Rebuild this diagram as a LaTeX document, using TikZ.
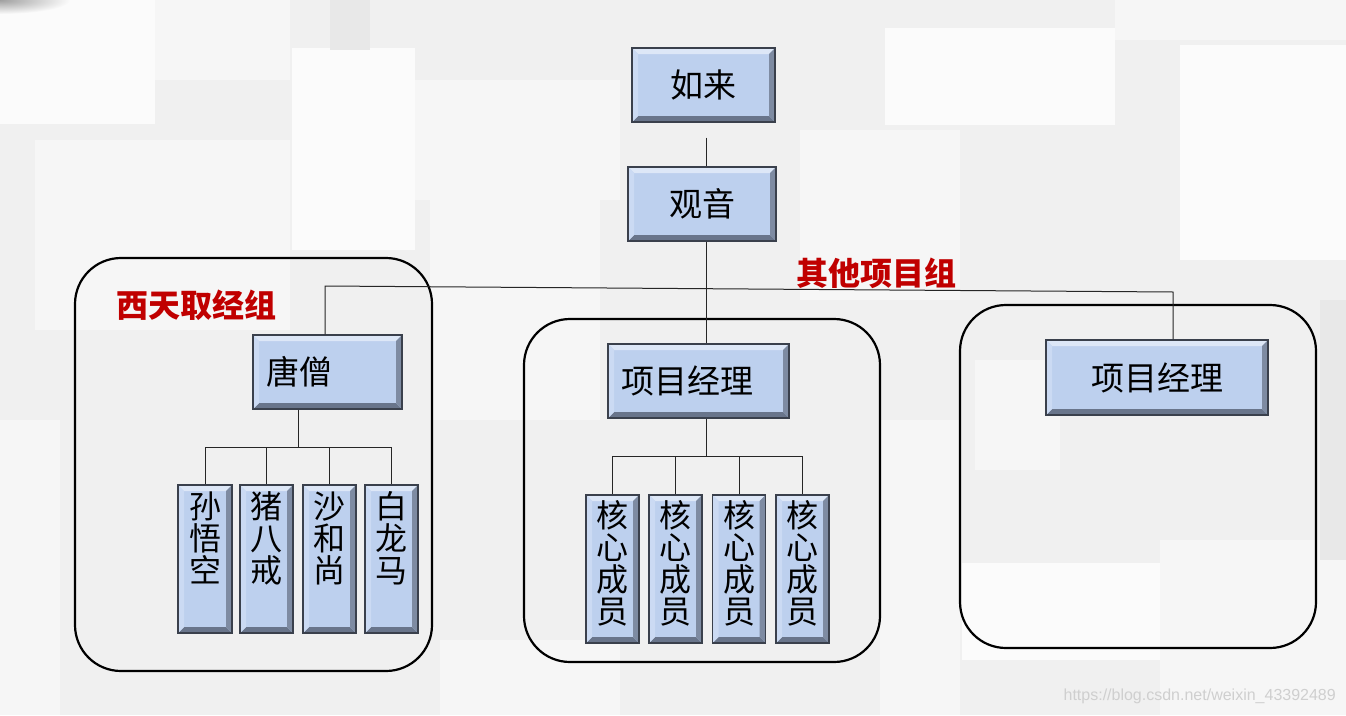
\documentclass[tikz,border=0pt]{standalone}
\usepackage{fontspec}
\newfontfamily\cjk{Noto Sans CJK SC}
\newfontfamily\wmfont{Liberation Sans}
\definecolor{boxfill}{HTML}{BDD0EE}
\definecolor{boxborder}{HTML}{3A404C}
\definecolor{bevT}{HTML}{DDE7F7}
\definecolor{bevL}{HTML}{CBDAF3}
\definecolor{bevR}{HTML}{7E8BA2}
\definecolor{bevB}{HTML}{69758B}
\definecolor{lblred}{HTML}{C00000}
\definecolor{bgbase}{HTML}{F0F0F0}
\definecolor{bglight}{HTML}{F6F6F6}
\definecolor{bgwhite}{HTML}{FBFBFB}
\definecolor{bgmid}{HTML}{E8E8E8}
\definecolor{wmgray}{HTML}{CFCFCF}
\begin{document}
\begin{tikzpicture}[x=1pt,y=-1pt,
  conn/.style={draw=black!85, line width=1pt},
  bevbox/.style={draw=boxborder, line width=1.4pt, fill=boxfill, inner sep=0pt,
    path picture={
      \fill[fill=bevT] (path picture bounding box.north west) -- (path picture bounding box.north east)
        -- ([shift={(-6pt,-6pt)}]path picture bounding box.north east) -- ([shift={(6pt,-6pt)}]path picture bounding box.north west) -- cycle;
      \fill[fill=bevB] (path picture bounding box.south west) -- (path picture bounding box.south east)
        -- ([shift={(-6pt,6pt)}]path picture bounding box.south east) -- ([shift={(6pt,6pt)}]path picture bounding box.south west) -- cycle;
      \fill[fill=bevL] (path picture bounding box.north west) -- (path picture bounding box.south west)
        -- ([shift={(6pt,6pt)}]path picture bounding box.south west) -- ([shift={(6pt,-6pt)}]path picture bounding box.north west) -- cycle;
      \fill[fill=bevR] (path picture bounding box.north east) -- (path picture bounding box.south east)
        -- ([shift={(-6pt,6pt)}]path picture bounding box.south east) -- ([shift={(-6pt,-6pt)}]path picture bounding box.north east) -- cycle;
    }},
  grp/.style={draw=black, line width=2.2pt, rounded corners=46pt, inner sep=0pt},
  htxt/.style={font=\cjk\fontsize{33}{36}\selectfont, inner sep=0pt, text=black},
  vtxt/.style={font=\cjk\fontsize{32}{32}\selectfont, align=center, inner sep=0pt, text=black},
  lbl/.style={font=\cjk\bfseries\fontsize{32}{36}\selectfont, text=lblred, inner sep=0pt},
  wm/.style={font=\wmfont\fontsize{16}{18}\selectfont, text=wmgray, inner sep=0pt}]

% background
\fill[bgbase] (0,0) rectangle (1346,715);
\useasboundingbox (0,0) rectangle (1346,715);
\fill[bgwhite] (0,0) rectangle (155,124);
\fill[bglight] (155,0) rectangle (290,80);
\fill[bglight] (35,140) rectangle (290,330);
\fill[bgwhite] (292,48) rectangle (415,250);
\fill[bglight] (415,80) rectangle (620,200);
\fill[bgmid] (330,0) rectangle (370,50);
\fill[bglight] (430,200) rectangle (600,420);
\fill[bgwhite] (885,28) rectangle (1115,125);
\fill[bglight] (800,130) rectangle (960,300);
\fill[bglight] (1115,0) rectangle (1346,40);
\fill[bgwhite] (1180,45) rectangle (1346,260);
\fill[bglight] (975,360) rectangle (1060,470);
\fill[bgwhite] (962,563) rectangle (1160,660);
\fill[bglight] (0,420) rectangle (60,715);
\fill[bglight] (880,420) rectangle (960,715);
\fill[bglight] (1160,540) rectangle (1346,715);
\fill[bgmid] (1320,300) rectangle (1346,560);
\fill[bglight] (440,640) rectangle (620,715);
\shade[inner color=gray!75, outer color=bgwhite] (0,0) ellipse [x radius=70pt, y radius=14pt];

% group frames
\node[grp, minimum width=357pt, minimum height=413pt] (g1) at (253.5,464.5) {};
\node[grp, minimum width=356pt, minimum height=343pt] (g2) at (702,490.5) {};
\node[grp, minimum width=356pt, minimum height=343pt] (g3) at (1138,476.5) {};

% boxes
\node[bevbox, minimum width=143pt, minimum height=74pt] (rulai) at (703.5,85) {};
\node[bevbox, minimum width=148pt, minimum height=74pt] (guanyin) at (702,204) {};
\node[bevbox, minimum width=149pt, minimum height=74pt] (ts) at (327.5,372) {};
\node[bevbox, minimum width=181pt, minimum height=74pt] (pm1) at (698.5,381) {};
\node[bevbox, minimum width=222pt, minimum height=75pt] (pm2) at (1157,377.5) {};

\node[bevbox, minimum width=54pt, minimum height=148pt] (c1) at (205,559) {};
\node[bevbox, minimum width=53pt, minimum height=148pt] (c2) at (266.5,559) {};
\node[bevbox, minimum width=53pt, minimum height=148pt] (c3) at (329.5,559) {};
\node[bevbox, minimum width=53pt, minimum height=148pt] (c4) at (391.5,559) {};

\node[bevbox, minimum width=53pt, minimum height=148pt] (m1) at (612.5,569) {};
\node[bevbox, minimum width=53pt, minimum height=148pt] (m2) at (675.5,569) {};
\node[bevbox, minimum width=53pt, minimum height=148pt] (m3) at (739,569) {};
\node[bevbox, minimum width=53pt, minimum height=148pt] (m4) at (802.5,569) {};

% connectors
\coordinate (ax) at (706.5,0);
\coordinate (hl) at (325,286);
\coordinate (hr) at (1173,292);
\coordinate (bus1) at (298,447);
\coordinate (bus2) at (706.5,456);

\draw[conn] (ax |- rulai.south) ++(0,15) -- (ax |- guanyin.north);
\draw[conn] (ax |- guanyin.south) -- (ax |- pm1.north);
\draw[conn] (hl |- ts.north) -- (hl) -- (hr) -- (hr |- pm2.north);

\draw[conn] (bus1 |- ts.south) -- (bus1);
\draw[conn] (c1.north) -- (c1.north |- bus1) -- (c4.north |- bus1) -- (c4.north);
\draw[conn] (c2.north) -- (c2.north |- bus1);
\draw[conn] (c3.north) -- (c3.north |- bus1);

\draw[conn] (bus2 |- pm1.south) -- (bus2);
\draw[conn] (m1.north) -- (m1.north |- bus2) -- (m4.north |- bus2) -- (m4.north);
\draw[conn] (m2.north) -- (m2.north |- bus2);
\draw[conn] (m3.north) -- (m3.north |- bus2);

% texts
\node[htxt] (trulai) at (rulai.center) {如来};
\node[htxt] (tguanyin) at (guanyin.center) {观音};
\node[htxt, anchor=west] (tts) at ([xshift=14pt]ts.west) {唐僧};
\node[htxt, anchor=west] (tpm1) at ([xshift=14pt]pm1.west) {项目经理};
\node[htxt] (tpm2) at (pm2.center) {项目经理};

\node[vtxt, anchor=north] (tc1) at ([yshift=-7pt]c1.north) {孙\\悟\\空};
\node[vtxt, anchor=north] (tc2) at ([yshift=-7pt]c2.north) {猪\\八\\戒};
\node[vtxt, anchor=north] (tc3) at ([yshift=-7pt]c3.north) {沙\\和\\尚};
\node[vtxt, anchor=north] (tc4) at ([yshift=-7pt]c4.north) {白\\龙\\马};

\node[vtxt, anchor=north] (tm1) at ([yshift=-6pt]m1.north) {核\\心\\成\\员};
\node[vtxt, anchor=north] (tm2) at ([yshift=-6pt]m2.north) {核\\心\\成\\员};
\node[vtxt, anchor=north] (tm3) at ([yshift=-6pt]m3.north) {核\\心\\成\\员};
\node[vtxt, anchor=north] (tm4) at ([yshift=-6pt]m4.north) {核\\心\\成\\员};

\node[lbl, anchor=west] (lxt) at (116,305) {西天取经组};
\node[lbl, anchor=west] (lqt) at (796,273) {其他项目组};

\node[wm, anchor=east] (wmk) at (1336,696) {https://blog.csdn.net/weixin\_43392489};
\end{tikzpicture}
\end{document}
